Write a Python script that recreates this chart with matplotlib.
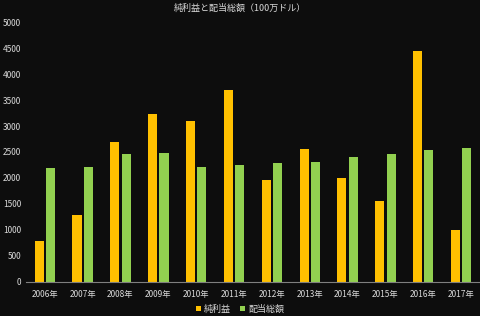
import matplotlib
matplotlib.use('Agg')
import matplotlib.pyplot as plt
import numpy as np

plt.rcParams['font.family'] = ['Noto Sans CJK JP', 'DejaVu Sans']

# data
years = ['2006年', '2007年', '2008年', '2009年', '2010年', '2011年',
         '2012年', '2013年', '2014年', '2015年', '2016年', '2017年']
net_income = [790, 1290, 2690, 3230, 3100, 3690, 1960, 2560, 2000, 1560, 4440, 1000]
dividends = [2190, 2210, 2460, 2480, 2210, 2250, 2280, 2300, 2400, 2460, 2540, 2580]

bg = '#0d0d0d'
fig = plt.figure(figsize=(4.8, 3.16), dpi=100, facecolor=bg)
ax = fig.add_axes([0.054, 0.108, 0.946, 0.822], facecolor=bg)

x = np.arange(len(years))
w = 0.24
ax.bar(x - 0.15, net_income, w, color='#FFC000', label='純利益')
ax.bar(x + 0.15, dividends, w, color='#92D050', label='配当総額')

ax.set_xlim(-0.5, len(years) - 0.5)
ax.set_ylim(0, 5000)
ax.set_yticks(range(0, 5001, 500))
ax.set_xticks(x)
ax.set_xticklabels(years)

for s in ['top', 'right', 'left']:
    ax.spines[s].set_visible(False)
ax.spines['bottom'].set_color('#7f7f7f')
ax.tick_params(axis='both', length=0, colors='#d9d9d9', labelsize=6)
ax.tick_params(axis='x', pad=6)

fig.text(0.5, 0.975, '純利益と配当総額（100万ドル）', ha='center', va='center',
         color='#d9d9d9', fontsize=6.5)

leg = fig.legend(loc='center', bbox_to_anchor=(0.5, 0.022), ncol=2, frameon=False,
                 fontsize=6.5, handlelength=0.6, handleheight=0.6, columnspacing=1.0,
                 handletextpad=0.3)
for t in leg.get_texts():
    t.set_color('#d9d9d9')

fig.savefig('out.png', dpi=100, facecolor=bg)
